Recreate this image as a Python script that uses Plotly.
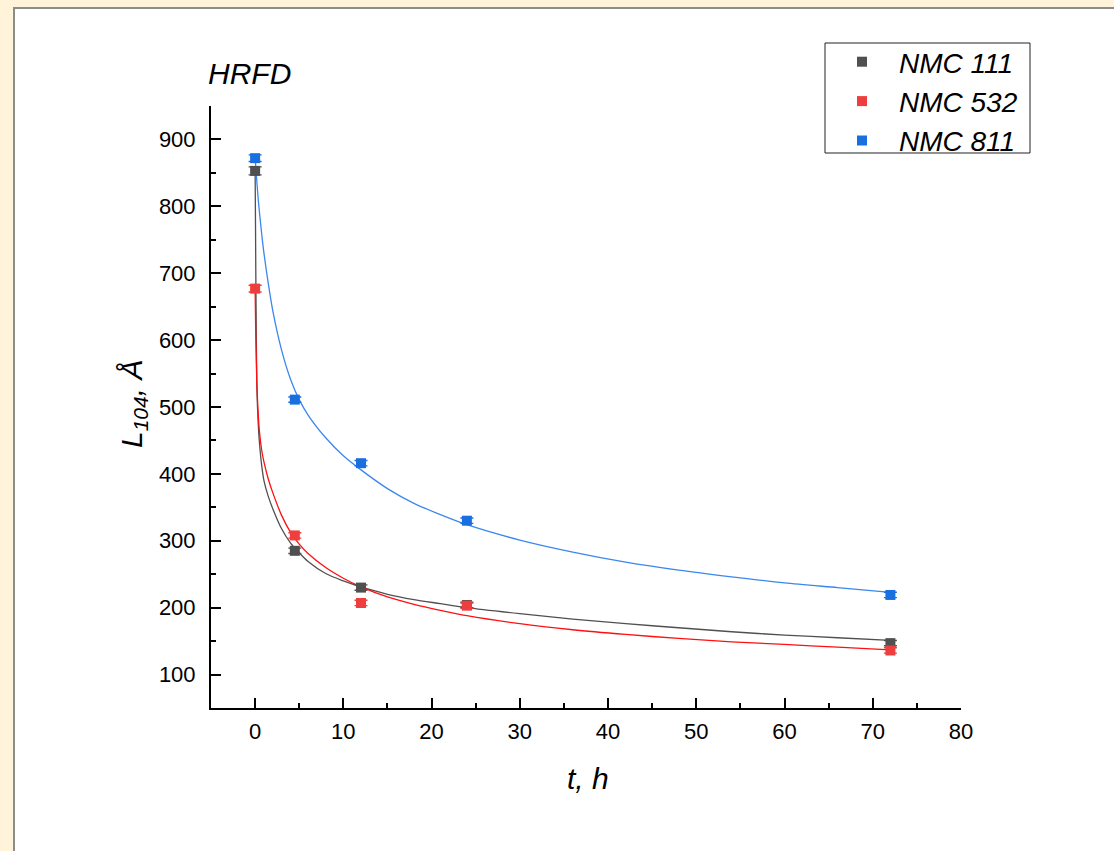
import plotly.graph_objects as go

# ---- data ----
t_data = [0, 4.5, 12, 24, 72]
nmc111 = [853, 285, 230, 204, 147]
nmc532 = [677, 308, 207, 203, 136]
nmc811 = [872, 511, 416, 330, 219]
err111 = [6, 4, 4, 4, 4]
err532 = [5, 4, 4, 4, 4]
err811 = [5, 4, 4, 4, 4]

t_fit = [0, 0.05, 0.1, 0.2, 0.35, 0.5, 0.75, 1, 1.5, 2, 3, 4, 5, 6, 8, 10, 12,
         15, 18, 21, 24, 30, 36, 42, 48, 54, 60, 66, 72]
fit111 = [853, 760, 660, 530, 475, 445, 412, 390, 366, 348, 318, 297, 282, 269,
          251, 240, 231, 220, 212, 206, 200, 191, 183, 176, 170, 164, 159, 155, 151]
fit532 = [677, 630, 590, 535, 490, 462, 435, 418, 392, 372, 338, 313, 295, 281,
          260, 244, 231, 216, 205, 196, 188, 176, 167, 160, 154, 149, 145, 141, 137]
fit811 = [874, 864, 854, 836, 811, 790, 758, 730, 684, 644, 585, 542, 511, 488,
          454, 427, 406, 378, 356, 339, 324, 301, 283, 268, 256, 246, 237, 230, 223]

names = ["NMC 111", "NMC 532", "NMC 811"]
marker_colors = ["#505050", "#EE3E3E", "#1A6FE0"]
line_colors = ["#505050", "#FF1010", "#3A88EE"]

FONT = "Liberation Sans, Arial, sans-serif"

fig = go.Figure()

for fit, lc in zip([fit111, fit532, fit811], line_colors):
    fig.add_trace(go.Scatter(x=t_fit, y=fit, mode="lines",
                             line=dict(color=lc, width=1.3, shape="spline", smoothing=0.8),
                             showlegend=False, hoverinfo="skip"))

for name, vals, err, mc in zip(names, [nmc111, nmc532, nmc811],
                               [err111, err532, err811], marker_colors):
    fig.add_trace(go.Scatter(x=t_data, y=vals, mode="markers", name=name,
                             marker=dict(symbol="square", size=10, color=mc),
                             error_y=dict(type="data", array=err, visible=True,
                                          color=mc, thickness=1.4, width=6.5)))

# plot area in pixels: x 211..961, y 106..708
L, R, T, B = 211, 961, 106, 708
W, H = 1114, 851
def px(xp):
    return (xp - L) / (R - L)
def py(yp):
    return (B - yp) / (B - T)

fig.update_layout(
    width=W, height=H,
    margin=dict(l=L, r=W - R, t=T, b=H - B, pad=0),
    paper_bgcolor="#FFF3DA",
    plot_bgcolor="rgba(0,0,0,0)",
    font=dict(family=FONT, size=22, color="black"),
    showlegend=True,
    legend=dict(x=px(825), y=py(37), xanchor="left", yanchor="top",
                bgcolor="rgba(0,0,0,0)", borderwidth=0,
                font=dict(family=FONT, size=28, color="black", style="italic"),
                itemwidth=64, tracegroupgap=0),
    xaxis=dict(range=[-5, 80], tickvals=[0, 10, 20, 30, 40, 50, 60, 70, 80],
               ticks="inside", ticklen=10, tickwidth=1.5, tickcolor="black",
               minor=dict(tickvals=[5, 15, 25, 35, 45, 55, 65, 75], ticks="inside",
                          ticklen=5, tickwidth=1.5, tickcolor="black"),
               showline=True, linecolor="black", linewidth=2, showgrid=False,
               zeroline=False, ticklabelstandoff=3,
               tickfont=dict(family=FONT, size=22, color="black")),
    yaxis=dict(range=[50, 950], tickvals=[100, 200, 300, 400, 500, 600, 700, 800, 900],
               ticks="inside", ticklen=10, tickwidth=1.5, tickcolor="black",
               minor=dict(tickvals=[150, 250, 350, 450, 550, 650, 750, 850, 950],
                          ticks="inside", ticklen=5, tickwidth=1.5, tickcolor="black"),
               showline=True, linecolor="black", linewidth=2, showgrid=False,
               zeroline=False, ticklabelstandoff=9,
               tickfont=dict(family=FONT, size=22, color="black")),
    shapes=[dict(type="rect", xref="paper", yref="paper",
                 x0=px(14), x1=px(1125), y0=py(862), y1=py(8),
                 fillcolor="white", line=dict(color="#8C8C8C", width=2),
                 layer="below"),
            dict(type="rect", xref="paper", yref="paper",
                 x0=px(825), x1=px(1030), y0=py(153), y1=py(43),
                 fillcolor="white", line=dict(color="#222222", width=1),
                 layer="above")],
    annotations=[
        dict(text="HRFD", xref="paper", yref="paper", x=px(206), y=py(73),
             xanchor="left", yanchor="middle", showarrow=False,
             font=dict(family=FONT, size=30, style="italic", color="black")),
        dict(text="t, h", xref="paper", yref="paper", x=px(588), y=py(778),
             xanchor="center", yanchor="middle", showarrow=False,
             font=dict(family=FONT, size=30, style="italic", color="black")),
        dict(text="L<sub>104</sub>, Å", xref="paper", yref="paper", x=px(133), y=py(404),
             xanchor="center", yanchor="middle", showarrow=False, textangle=-90,
             font=dict(family=FONT, size=30, style="italic", color="black")),
    ],
)

fig.write_html("out.html")
